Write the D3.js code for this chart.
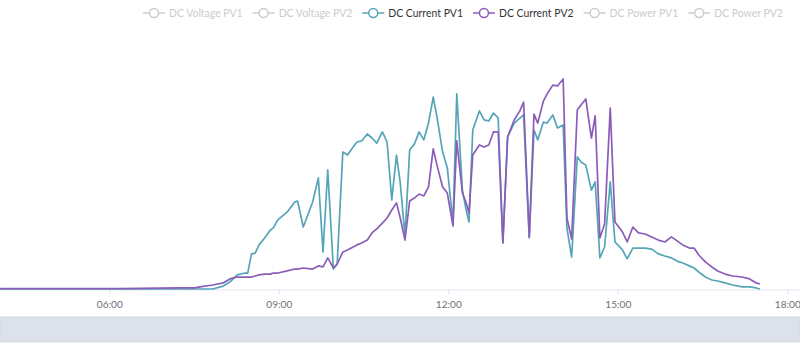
<!DOCTYPE html>
<html>
<head>
<meta charset="utf-8">
<script src="https://cdn.jsdelivr.net/npm/d3@7"></script>
<style>
html,body{margin:0;padding:0;background:#fff;}
svg{display:block;font-family:"Lato","Liberation Sans",sans-serif;}
</style>
</head>
<body>
<svg id="chart" width="800" height="358"></svg>
<script>
const legendNames = ["DC Voltage PV1","DC Voltage PV2","DC Current PV1","DC Current PV2","DC Power PV1","DC Power PV2"];
const legendActive = [false,false,true,true,false,false];
const tickLabels = ["06:00","09:00","12:00","15:00","18:00"];

const times = ["04:04","05:08","06:11","07:15","07:31","07:36","07:50","08:01","08:08","08:16","08:24","08:27","08:31","08:35","08:39","08:45","08:51","08:54","08:59","09:09","09:17","09:20","09:26","09:36","09:42","09:47","09:52","09:58","10:02","10:08","10:13","10:19","10:23","10:28","10:34","10:39","10:44","10:50","10:55","11:00","11:05","11:09","11:14","11:19","11:24","11:29","11:34","11:39","11:44","11:48","11:54","11:59","12:05","12:09","12:15","12:19","12:22","12:26","12:33","12:38","12:43","12:48","12:53","12:58","13:03","13:10","13:16","13:20","13:26","13:31","13:35","13:41","13:45","13:51","13:56","14:02","14:06","14:11","14:17","14:21","14:26","14:32","14:36","14:41","14:46","14:52","14:57","15:05","15:10","15:16","15:22","15:29","15:36","15:43","15:50","15:57","16:03","16:09","16:16","16:21","16:26","16:33","16:40","16:46","16:54","17:02","17:12","17:20","17:27","17:31"];

const currentPV1 = [0,0,0,0,0,0,0,0.14,0.33,0.67,0.76,0.76,1.67,1.71,2.10,2.43,2.81,2.90,3.29,3.67,4.14,4.19,2.95,4.14,5.29,1.76,5.67,0.95,1.19,6.52,6.38,6.76,7.00,7.05,7.38,7.19,6.95,7.48,7.00,4.24,6.38,5.05,2.52,6.62,6.90,7.48,7.10,7.90,9.14,8.19,6.52,5.76,3.14,9.29,4.71,3.76,3.19,7.57,8.48,8.05,8.00,8.38,8.14,2.19,7.24,7.90,8.14,8.29,2.43,7.57,7.10,7.95,7.90,8.29,7.67,7.81,2.90,1.52,6.29,6.05,5.90,4.71,5.10,1.48,2.00,5.10,2.24,1.86,1.43,1.95,1.95,1.95,1.90,1.67,1.57,1.48,1.33,1.24,1.10,1.00,0.81,0.57,0.43,0.38,0.29,0.19,0.10,0.10,0.05,0];

const currentPV2 = [0.02,0.02,0.02,0.05,0.05,0.10,0.19,0.29,0.48,0.57,0.57,0.57,0.57,0.62,0.67,0.71,0.71,0.76,0.76,0.86,0.95,0.95,1.00,0.95,1.10,1.05,1.48,1.00,1.19,1.76,1.86,2.00,2.10,2.19,2.33,2.67,2.86,3.14,3.38,3.76,4.10,3.38,2.33,4.19,4.33,4.52,4.43,4.86,6.67,5.90,4.86,4.57,3.00,7.05,4.57,4.10,3.62,6.38,6.86,6.76,6.86,7.48,7.48,2.19,7.24,8.05,8.48,8.90,2.48,8.33,7.90,8.95,9.29,9.71,9.67,10.00,3.38,2.38,8.52,8.76,9.05,7.19,8.24,2.43,3.10,8.62,3.19,2.71,2.24,2.95,2.67,2.62,2.48,2.33,2.24,2.48,2.29,2.10,1.95,1.95,1.62,1.29,1.05,0.86,0.71,0.62,0.57,0.48,0.29,0.24];

const seriesColors = {"DC Current PV1":"#55a5b7","DC Current PV2":"#8a5db8"};

function toHours(s){const p=s.split(":");return +p[0]+ +p[1]/60;}

const svg = d3.select("#chart");
const x = d3.scaleLinear().domain([4.066, 18.225]).range([0, 800]);
const y = d3.scaleLinear().domain([0, 12]).range([289, 37]);

function textWidth(s, size){
  const t = svg.append("text").attr("font-size",size).text(s);
  const w = t.node().getComputedTextLength();
  t.remove();
  return w;
}
// legend spans x 143..783 in the reference: 6 icons (26 each) + 5 gaps (10)
const legendTextTarget = 640 - 6*26 - 5*10;
const legendFont = 12 * legendTextTarget / d3.sum(legendNames, n=>textWidth(n,12));
const tickFont = 12 * 26 / textWidth("06:00",12);

// data zoom band
svg.append("rect").attr("x",0).attr("y",317).attr("width",800).attr("height",25)
  .attr("fill","#dde2ea").attr("stroke","#d2d8e1").attr("stroke-width",1);

// x axis
const xAxis = d3.axisBottom(x)
  .tickValues(tickLabels.map(toHours))
  .tickFormat((d,i)=>tickLabels[i])
  .tickSize(5).tickSizeOuter(0);
const gx = svg.append("g").attr("transform","translate(0,289.5)").call(xAxis);
gx.select(".domain").attr("stroke","#e0e6f1");
gx.selectAll(".tick line").attr("stroke","#e0e6f1");
gx.selectAll(".tick text").attr("fill","#6e7079").attr("font-size",tickFont)
  .attr("font-family","Lato, 'Liberation Sans', sans-serif").attr("dy","1.0em");

// lines
const pts = times.map(toHours);
const line = d3.line().x(d=>x(d[0])).y(d=>y(d[1]));
const series = [
  {name:"DC Current PV1", values:currentPV1},
  {name:"DC Current PV2", values:currentPV2}
];
series.forEach(s=>{
  svg.append("path")
    .datum(pts.map((t,i)=>[t,s.values[i]]))
    .attr("fill","none")
    .attr("stroke",seriesColors[s.name])
    .attr("stroke-width",1.7)
    .attr("stroke-linejoin","round")
    .attr("d",line);
});

// legend: item = icon(22) + 4 + text, gap 10
const lg = svg.append("g");
const items = legendNames.map((n,i)=>{
  const c = legendActive[i] ? seriesColors[n] : "#cccccc";
  const g = lg.append("g");
  g.append("line").attr("x1",0).attr("x2",22).attr("y1",0).attr("y2",0).attr("stroke",c).attr("stroke-width",1.5);
  g.append("circle").attr("cx",11).attr("cy",0).attr("r",4.5).attr("fill","#fff").attr("stroke",c).attr("stroke-width",1.5);
  const t = g.append("text").attr("x",26).attr("y",0).attr("dy","0.35em")
    .attr("font-size",legendFont)
    .attr("fill",legendActive[i] ? "#333" : "#ccc").text(n);
  return {g, w: 26 + t.node().getComputedTextLength()};
});
let cx = 143;
items.forEach(it=>{ it.g.attr("transform",`translate(${cx},13)`); cx += it.w + 10; });
</script>
</body>
</html>
